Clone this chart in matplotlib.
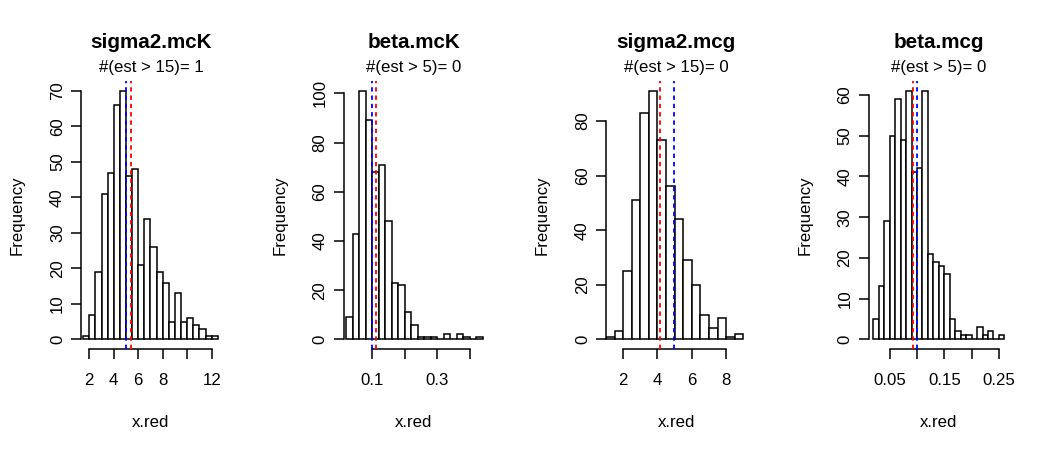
import numpy as np
import matplotlib
matplotlib.use("Agg")
import matplotlib.pyplot as plt

plt.rcParams['font.family'] = ['Liberation Sans', 'DejaVu Sans']

# ---------------- data ----------------
titles = ["sigma2.mcK", "beta.mcK", "sigma2.mcg", "beta.mcg"]
subtitles = ["#(est > 15)= 1", "#(est > 5)= 0", "#(est > 15)= 0", "#(est > 5)= 0"]

# histogram breaks: (first, last, width)
breaks1 = (1.5, 12.5, 0.5)
breaks2 = (0.02, 0.44, 0.02)
breaks3 = (1.0, 9.0, 0.5)
breaks4 = (0.02, 0.26, 0.01)

counts1 = [1, 7, 19, 41, 47, 66, 70, 46, 48, 21, 34, 26, 19, 16, 5, 13, 5, 6, 4, 3, 1, 1]
counts2 = [9, 43, 101, 89, 68, 71, 48, 23, 22, 11, 6, 1, 1, 1, 0, 2, 0, 2, 1, 0, 1]
counts3 = [1, 3, 25, 51, 83, 91, 73, 56, 44, 29, 20, 9, 4, 8, 1, 2]
counts4 = [5, 13, 29, 50, 59, 49, 61, 41, 42, 61, 21, 19, 18, 16, 5, 2, 1, 1, 0, 3, 1, 2, 0, 1]

# reference lines (blue, red)
blue_vals = [5.0, 0.101, 4.98, 0.100]
red_vals = [5.43, 0.113, 4.17, 0.0923]

xticks1 = [2, 4, 6, 8, 10, 12]
xlabels1 = ["2", "4", "6", "8", "", "12"]
xticks2 = [0.1, 0.2, 0.3, 0.4]
xlabels2 = ["0.1", "", "0.3", ""]
xticks3 = [2, 4, 6, 8]
xlabels3 = ["2", "4", "6", "8"]
xticks4 = [0.05, 0.10, 0.15, 0.20, 0.25]
xlabels4 = ["0.05", "", "0.15", "", "0.25"]

yticks1 = [0, 10, 20, 30, 40, 50, 60, 70]
yticks2 = [0, 20, 40, 60, 80, 100]
yticks3 = [0, 20, 40, 60, 80]
yticks4 = [0, 10, 20, 30, 40, 50, 60]

# x view limits of each plot region
xlims = [(1.322, 12.76), (0.0123, 0.4424), (1.0, 9.158), (0.0112, 0.2676)]

panels = [
    (breaks1, counts1, xticks1, xlabels1, yticks1),
    (breaks2, counts2, xticks2, xlabels2, yticks2),
    (breaks3, counts3, xticks3, xlabels3, yticks3),
    (breaks4, counts4, xticks4, xlabels4, yticks4),
]

# ---------------- figure ----------------
W, H = 1050, 450
DPI = 100
fig = plt.figure(figsize=(W / DPI, H / DPI), dpi=DPI)
fig.patch.set_facecolor("white")

PX = 72.0 / DPI          # points per pixel
fs = 16.8 * PX           # base font size
fs_main = 20.6 * PX

plot_left0 = 81.0
plot_w = 140.0
plot_top = 81.0
plot_bot = 349.3
panel_step = 262.5
tick_len = 9.9

lw = 1.1

for i, (brk, cnt, xt, xl, yt) in enumerate(panels):
    left = plot_left0 + i * panel_step
    ax = fig.add_axes([left / W, 1 - plot_bot / H, plot_w / W, (plot_bot - plot_top) / H])
    lo, hi, step = brk
    edges = np.arange(lo, hi + step / 2, step)
    M = max(cnt)
    ax.bar(edges[:-1], cnt, width=step, align="edge", facecolor="white",
           edgecolor="black", linewidth=lw, zorder=2)
    ax.axvline(blue_vals[i], color="#0000FF", linewidth=1.3, linestyle=(0, (2.4, 2.2)), zorder=3)
    ax.axvline(red_vals[i], color="#FF0000", linewidth=1.3, linestyle=(0, (2.4, 2.2)), zorder=3)

    ax.set_xlim(*xlims[i])
    ax.set_ylim(-0.04 * M, 1.04 * M)

    for s in ["top", "right"]:
        ax.spines[s].set_visible(False)
    for s in ["left", "bottom"]:
        ax.spines[s].set_linewidth(lw)
    ax.spines["bottom"].set_bounds(xt[0], xt[-1])
    ax.spines["left"].set_bounds(yt[0], yt[-1])

    ax.set_xticks(xt)
    ax.set_xticklabels(xl)
    ax.set_yticks(yt)
    ax.set_yticklabels([str(v) for v in yt])
    ax.tick_params(axis="both", direction="out", length=tick_len * PX, width=lw,
                   labelsize=fs, color="black")
    ax.tick_params(axis="x", pad=13.5 * PX)
    ax.tick_params(axis="y", pad=6.0 * PX, labelrotation=90)
    for lab in ax.get_yticklabels():
        lab.set_verticalalignment("center")
        lab.set_horizontalalignment("right")
    ax.patch.set_visible(False)

    cx = left + plot_w / 2
    fig.text(cx / W, 1 - 48.3 / H, titles[i], ha="center", va="baseline",
             fontsize=fs_main, fontweight="bold")
    fig.text(cx / W, 1 - 71.7 / H, subtitles[i], ha="center", va="baseline",
             fontsize=fs)
    fig.text(cx / W, 1 - 427.0 / H, "x.red", ha="center", va="baseline", fontsize=fs)
    fig.text((left - 59.25) / W, 1 - ((plot_top + plot_bot) / 2) / H, "Frequency",
             rotation=90, rotation_mode="anchor", ha="center", va="baseline", fontsize=fs)

fig.savefig("out.png", dpi=DPI, facecolor="white")
